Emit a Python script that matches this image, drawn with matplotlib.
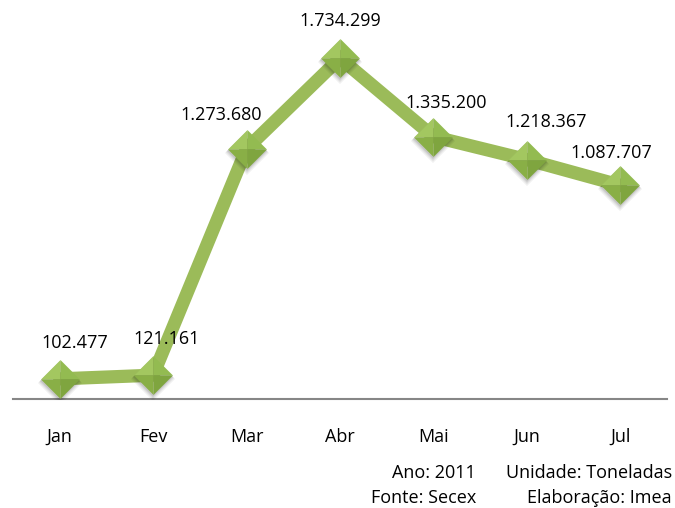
import matplotlib
matplotlib.use("Agg")
import matplotlib.pyplot as plt
from matplotlib.path import Path
import matplotlib.transforms as mtransforms

months = ["Jan", "Fev", "Mar", "Abr", "Mai", "Jun", "Jul"]
values = [102477, 121161, 1273680, 1734299, 1335200, 1218367, 1087707]
footer_left = ["Ano: 2011", "Fonte: Secex"]
footer_right = ["Unidade: Toneladas", "Elaboração: Imea"]

plt.rcParams['font.family'] = ['Open Sans', 'DejaVu Sans']
FS = 13

fig = plt.figure(figsize=(6.75, 5.08), dpi=100)
ax = fig.add_axes([13/675, (508-399)/508, 654/675, 393/508])
x = list(range(len(months)))

ax.plot(x, values, color="#9BBB59", lw=9.5, solid_joinstyle="miter", zorder=2)

# soft shadow layers
for dy, a, s in [(4, 0.06, 32), (3, 0.08, 30), (2, 0.1, 29)]:
    ax.plot(x, values, ls="none", marker="D", markersize=s/1.414, color="black",
            alpha=a, markeredgewidth=0, zorder=3,
            transform=ax.transData + mtransforms.ScaledTranslation(0, -dy/100, fig.dpi_scale_trans))

facets = [
    ([(0, 0), (-1, 0), (0, 1), (0, 0)], "#A3C760"),
    ([(0, 0), (0, 1), (1, 0), (0, 0)], "#93BB51"),
    ([(0, 0), (1, 0), (0, -1), (0, 0)], "#7FA53F"),
    ([(0, 0), (0, -1), (-1, 0), (0, 0)], "#89AF46"),
]
for verts, col in facets:
    p = Path(verts, [Path.MOVETO, Path.LINETO, Path.LINETO, Path.CLOSEPOLY])
    ax.plot(x, values, ls="none", marker=p, markersize=28, color=col,
            markeredgewidth=0, zorder=4)

offsets = [(11, 26), (10, 26), (-18, 24.5), (0, 27), (9.5, 24), (14, 27), (-6.5, 23)]
for xi, v, off in zip(x, values, offsets):
    ax.annotate(f"{v:,}".replace(",", "."), (xi, v), xytext=off,
                textcoords="offset points", ha="center", va="center",
                fontsize=FS, color="black", zorder=5)

ax.set_xlim(-0.5, 6.5)
ax.set_ylim(0, 2000000)
for s in ["top", "right", "left"]:
    ax.spines[s].set_visible(False)
ax.spines["bottom"].set_color("#868686")
ax.spines["bottom"].set_linewidth(1.5)
ax.set_yticks([])
ax.set_xticks(x)
ax.set_xticklabels(months, fontsize=FS)
ax.tick_params(axis="x", length=0, pad=21)

fig.text(476/675, 1 - 473/508, footer_left[0], ha="right", va="center", fontsize=FS)
fig.text(476/675, 1 - 498/508, footer_left[1], ha="right", va="center", fontsize=FS)
fig.text(672/675, 1 - 473/508, footer_right[0], ha="right", va="center", fontsize=FS)
fig.text(672/675, 1 - 498/508, footer_right[1], ha="right", va="center", fontsize=FS)

fig.savefig("out.png", dpi=100)
